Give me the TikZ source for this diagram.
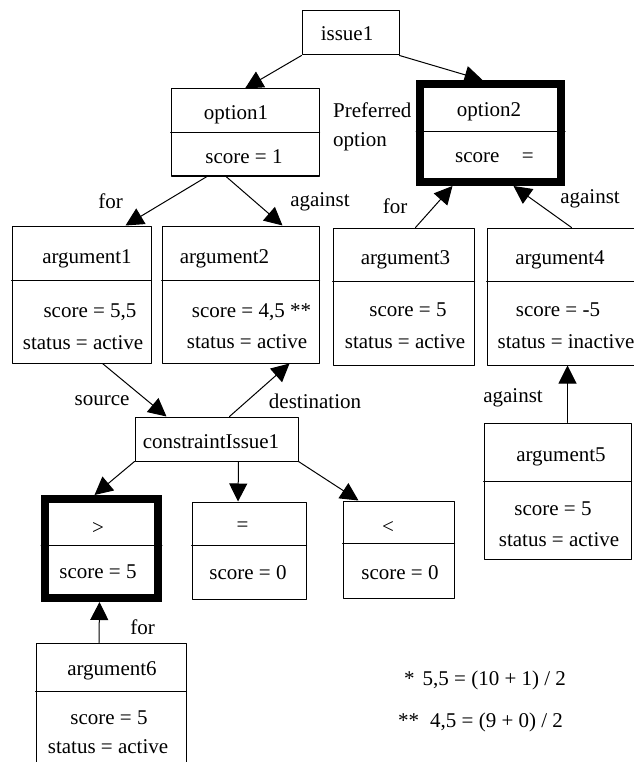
\documentclass[tikz,border=0pt]{standalone}
\usepackage{fontspec}
\setmainfont{Liberation Serif}
\usetikzlibrary{arrows.meta,fit}

\begin{document}
\begin{tikzpicture}
 [line cap=round,line join=round,x=1pt,y=-1pt,
box/.style={draw,line width=1pt,inner sep=0pt},
bestbox/.style={draw,line width=8pt,line join=miter,inner sep=0pt},
txt/.style={inner sep=0pt,font=\fontsize{21}{25}\selectfont},
link/.style={line width=1pt,-{Triangle[length=18pt,width=18pt]}}]
\useasboundingbox (0,0) rectangle (633,762);

%boxes
\node[box, fit={(302,11) (399,55)}] (issue) {};
\node[box, fit={(171,89) (319,176)}] (opt1) {};
\node[bestbox, fit={(420,84) (561,182)}] (opt2) {};
\node[box, fit={(12,226) (151,363)}] (arg1) {};
\node[box, fit={(162,226) (319,363)}] (arg2) {};
\node[box, fit={(333,228) (474,365)}] (arg3) {};
\node[box, fit={(487,228) (648,365)}] (arg4) {};
\node[box, fit={(135,417) (298,461)}] (ci1) {};
\node[bestbox, fit={(45,499) (158,598)}] (gt) {};
\node[box, fit={(192,502) (306,599)}] (eq) {};
\node[box, fit={(343,501) (454,598)}] (lt) {};
\node[box, fit={(484,423) (631,559)}] (arg5) {};
\node[box, fit={(36,643) (186,790)}] (arg6) {};

\draw[line width=1pt] (opt1.west |- 0,133) -- (opt1.east |- 0,133);
\draw[line width=1pt] (opt2.west |- 0,132) -- (opt2.east |- 0,132);
\draw[line width=1pt] (arg1.west |- 0,280) -- (arg1.east |- 0,280);
\draw[line width=1pt] (arg2.west |- 0,280) -- (arg2.east |- 0,280);
\draw[line width=1pt] (arg3.west |- 0,281) -- (arg3.east |- 0,281);
\draw[line width=1pt] (arg4.west |- 0,281) -- (arg4.east |- 0,281);
\draw[line width=1pt] (gt.west |- 0,545) -- (gt.east |- 0,545);
\draw[line width=1pt] (eq.west |- 0,545) -- (eq.east |- 0,545);
\draw[line width=1pt] (lt.west |- 0,543) -- (lt.east |- 0,543);
\draw[line width=1pt] (arg5.west |- 0,481) -- (arg5.east |- 0,481);
\draw[line width=1pt] (arg6.west |- 0,691) -- (arg6.east |- 0,691);

%texts
\node[txt] (issuet) at (347,34) {issue1};
\node[txt] (opt1t) at (236,115) {option1};
\node[txt] (opt1s) at (244,157) {score = 1};
\node[txt] (opt2t) at (489,112) {option2};
\node[txt, anchor=west] (opt2s) at (455,158) {score\hspace{1.06em}=};
\node[txt, anchor=west] (prefa) at (333,110) {Preferred};
\node[txt, anchor=west] (prefb) at (333,142) {option};

\node[txt] (arg1t) at (87,259) {argument1};
\node[txt] (arg1s) at (90,312) {score = 5,5};
\node[txt] (arg1a) at (83,343) {status = active};
\node[txt] (arg2t) at (224.5,259) {argument2};
\node[txt] (arg2s) at (251.5,312) {score = 4,5 **};
\node[txt] (arg2a) at (247,342) {status = active};
\node[txt] (arg3t) at (405.5,260) {argument3};
\node[txt] (arg3s) at (408,310) {score = 5};
\node[txt] (arg3a) at (405,342) {status = active};
\node[txt] (arg4t) at (560,260) {argument4};
\node[txt] (arg4s) at (558,310) {score = -5};
\node[txt, anchor=west] (arg4a) at (497.5,342) {status = inactive};

\node[txt] (ci1t) at (211,442) {constraintIssue1};
\node[txt] (gtt) at (98,528) {>};
\node[txt] (gts) at (98,572) {score = 5};
\node[txt] (eqt) at (242.5,527) {=};
\node[txt] (eqs) at (248,573) {score = 0};
\node[txt] (ltt) at (388,527) {<};
\node[txt] (lts) at (400,573) {score = 0};
\node[txt] (arg5t) at (561,457) {argument5};
\node[txt] (arg5s) at (553,509) {score = 5};
\node[txt] (arg5a) at (559,540) {status = active};
\node[txt] (arg6t) at (112,671) {argument6};
\node[txt] (arg6s) at (109,718) {score = 5};
\node[txt] (arg6a) at (108,747) {status = active};

\node[txt, anchor=west] (notea) at (404,680) {*\hspace{8pt}5,5 = (10 + 1) / 2};
\node[txt, anchor=west] (noteb) at (398,722) {**\hspace{11pt}4,5 = (9 + 0) / 2};

%links
\draw[link] (issue.south west) -- (opt1.north);
\draw[link] (issue.south east) -- ([xshift=-8pt]opt2.north);
\draw[link] ([xshift=-38pt]opt1.south) -- ([xshift=44pt]arg1.north);
\draw[link] ([xshift=-19pt]opt1.south) -- ([xshift=42pt]arg2.north);
\draw[link] ([xshift=12pt]arg3.north) -- ([xshift=-38pt]opt2.south);
\draw[link] ([xshift=4pt]arg4.north) -- ([xshift=23pt]opt2.south);
\draw[link] ([xshift=10pt]arg5.north) -- (arg4.south);
\draw[link] ([xshift=21pt]arg1.south) -- ([xshift=-50pt]ci1.north);
\draw[link] ([xshift=13pt]ci1.north) -- ([xshift=49pt]arg2.south);
\draw[link] (ci1.south west) -- ([xshift=-7pt]gt.north);
\draw[link] ([xshift=22pt]ci1.south) -- ([xshift=-11pt]eq.north);
\draw[link] (ci1.south east) -- ([xshift=-40pt]lt.north);
\draw[link] ([xshift=-12pt]arg6.north) -- ([xshift=-2pt]gt.south);

\node[txt] (lfor1) at (110.5,201) {for};
\node[txt] (lagainst2) at (320,202) {against};
\node[txt] (lfor3) at (395,206) {for};
\node[txt] (lagainst4) at (590,199) {against};
\node[txt] (lsource) at (102,401) {source};
\node[txt] (ldest) at (315,401) {destination};
\node[txt] (lagainst5) at (513,398) {against};
\node[txt] (lfor6) at (142.5,627) {for};

\end{tikzpicture}
\end{document}
